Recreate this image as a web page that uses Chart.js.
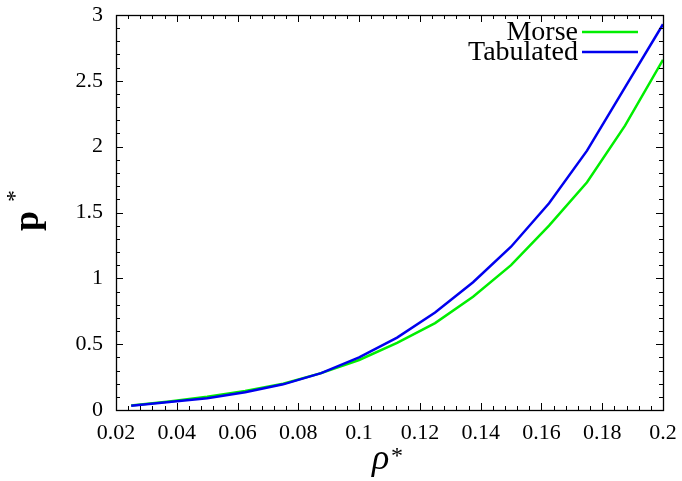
<!DOCTYPE html>
<html>
<head>
<meta charset="utf-8">
<script src="https://cdn.jsdelivr.net/npm/chart.js@4"></script>
<style>
  html, body { margin: 0; padding: 0; background: #ffffff; }
  #wrap { width: 682px; height: 481px; }
</style>
</head>
<body>
<div id="wrap"><canvas id="eosChart"></canvas></div>
<script>
// data
const rho = [0.025, 0.0375, 0.05, 0.0625, 0.075, 0.0875, 0.1, 0.1125, 0.125, 0.1375, 0.15, 0.1625, 0.175, 0.1875, 0.2];
const morse = [0.035, 0.065, 0.10, 0.145, 0.20, 0.28, 0.38, 0.51, 0.66, 0.86, 1.10, 1.40, 1.73, 2.16, 2.66];
const tabulated = [0.033, 0.06, 0.09, 0.135, 0.195, 0.28, 0.40, 0.55, 0.74, 0.97, 1.24, 1.57, 1.97, 2.45, 2.93];
const seriesNames = ["Morse", "Tabulated"];
const xTicks = [0.02, 0.04, 0.06, 0.08, 0.1, 0.12, 0.14, 0.16, 0.18, 0.2];
const yTicks = [0, 0.5, 1, 1.5, 2, 2.5, 3];

const SERIF = "'Liberation Serif', 'DejaVu Serif', serif";

function pts(ys) {
  return rho.map((x, i) => ({ x: x, y: ys[i] }));
}

// gnuplot style frame, inward ticks, legend and axis titles
const gnuplotLook = {
  id: "gnuplotLook",
  afterDraw(chart) {
    const ctx = chart.ctx;
    const a = chart.chartArea;
    const xs = chart.scales.x;
    const ys = chart.scales.y;
    ctx.save();
    ctx.strokeStyle = "#000000";
    ctx.lineWidth = 1;

    // ticks (minor then major), on all four sides
    ctx.beginPath();
    for (let i = 0; i <= 45; i++) {
      const v = 0.02 + i * 0.004;
      const px = Math.round(xs.getPixelForValue(v)) + 0.5;
      const len = i % 5 === 0 ? 7 : 4;
      ctx.moveTo(px, a.bottom); ctx.lineTo(px, a.bottom - len);
      ctx.moveTo(px, a.top); ctx.lineTo(px, a.top + len);
    }
    for (let i = 0; i <= 30; i++) {
      const v = i * 0.1;
      const py = Math.round(ys.getPixelForValue(v)) + 0.5;
      const len = i % 5 === 0 ? 7 : 4;
      ctx.moveTo(a.left, py); ctx.lineTo(a.left + len, py);
      ctx.moveTo(a.right, py); ctx.lineTo(a.right - len, py);
    }
    ctx.stroke();

    ctx.lineWidth = 1.3;
    ctx.strokeRect(Math.round(a.left) + 0.5, Math.round(a.top) + 0.5,
      Math.round(a.right - a.left), Math.round(a.bottom - a.top));

    // legend, top right inside the frame
    ctx.font = "28px " + SERIF;
    ctx.textAlign = "right";
    ctx.textBaseline = "middle";
    ctx.fillStyle = "#000000";
    chart.data.datasets.forEach((ds, i) => {
      const ly = 32 + i * 20;
      ctx.fillText(ds.label, 578, ly + 1);
      ctx.strokeStyle = ds.borderColor;
      ctx.lineWidth = 2.5;
      ctx.beginPath();
      ctx.moveTo(582, ly);
      ctx.lineTo(638, ly);
      ctx.stroke();
    });

    // y axis title: bold p with superscript star
    ctx.fillStyle = "#000000";
    ctx.textAlign = "left";
    ctx.textBaseline = "alphabetic";
    ctx.save();
    ctx.translate(38, 215);
    ctx.rotate(-Math.PI / 2);
    ctx.font = "bold 36px " + SERIF;
    const wp = ctx.measureText("p").width;
    ctx.fillText("p", -wp / 2 - 6, 0);
    ctx.font = "24px " + SERIF;
    ctx.fillText("*", wp / 2 + 3, -16);
    ctx.restore();

    // x axis title: italic rho with superscript star
    ctx.font = "italic 36px " + SERIF;
    ctx.fillText("\u03c1", 372, 469);
    ctx.font = "24px " + SERIF;
    ctx.fillText("*", 391, 463);

    ctx.restore();
  }
};

new Chart(document.getElementById("eosChart").getContext("2d"), {
  type: "line",
  data: {
    datasets: [
      {
        label: seriesNames[0],
        data: pts(morse),
        borderColor: "#00ee00",
        borderWidth: 2.5,
        pointRadius: 0,
        tension: 0,
        order: 1
      },
      {
        label: seriesNames[1],
        data: pts(tabulated),
        borderColor: "#0000ee",
        borderWidth: 2.5,
        pointRadius: 0,
        tension: 0,
        order: 0
      }
    ]
  },
  options: {
    responsive: true,
    maintainAspectRatio: false,
    animation: false,
    layout: { padding: { left: 0, right: 19, top: 15, bottom: 0 } },
    scales: {
      x: {
        type: "linear",
        min: 0.02,
        max: 0.2,
        afterFit(scale) {
          scale.height = 71;
          scale.paddingLeft = 0;
          scale.paddingRight = 0;
        },
        afterBuildTicks(scale) { scale.ticks = xTicks.map(v => ({ value: v })); },
        grid: { display: false, drawTicks: false },
        border: { display: false },
        ticks: {
          padding: 10,
          color: "#000000",
          font: { family: SERIF, size: 22 },
          maxRotation: 0,
          autoSkip: false,
          callback: v => String(parseFloat(v.toFixed(3)))
        }
      },
      y: {
        min: 0,
        max: 3,
        afterFit(scale) {
          scale.width = 116;
          scale.paddingTop = 0;
          scale.paddingBottom = 0;
        },
        afterBuildTicks(scale) { scale.ticks = yTicks.map(v => ({ value: v })); },
        grid: { display: false, drawTicks: false },
        border: { display: false },
        ticks: {
          padding: 13,
          color: "#000000",
          font: { family: SERIF, size: 22 },
          autoSkip: false,
          callback: v => String(parseFloat(v.toFixed(2)))
        }
      }
    },
    plugins: {
      legend: { display: false },
      tooltip: { enabled: false }
    }
  },
  plugins: [gnuplotLook]
});
</script>
</body>
</html>
